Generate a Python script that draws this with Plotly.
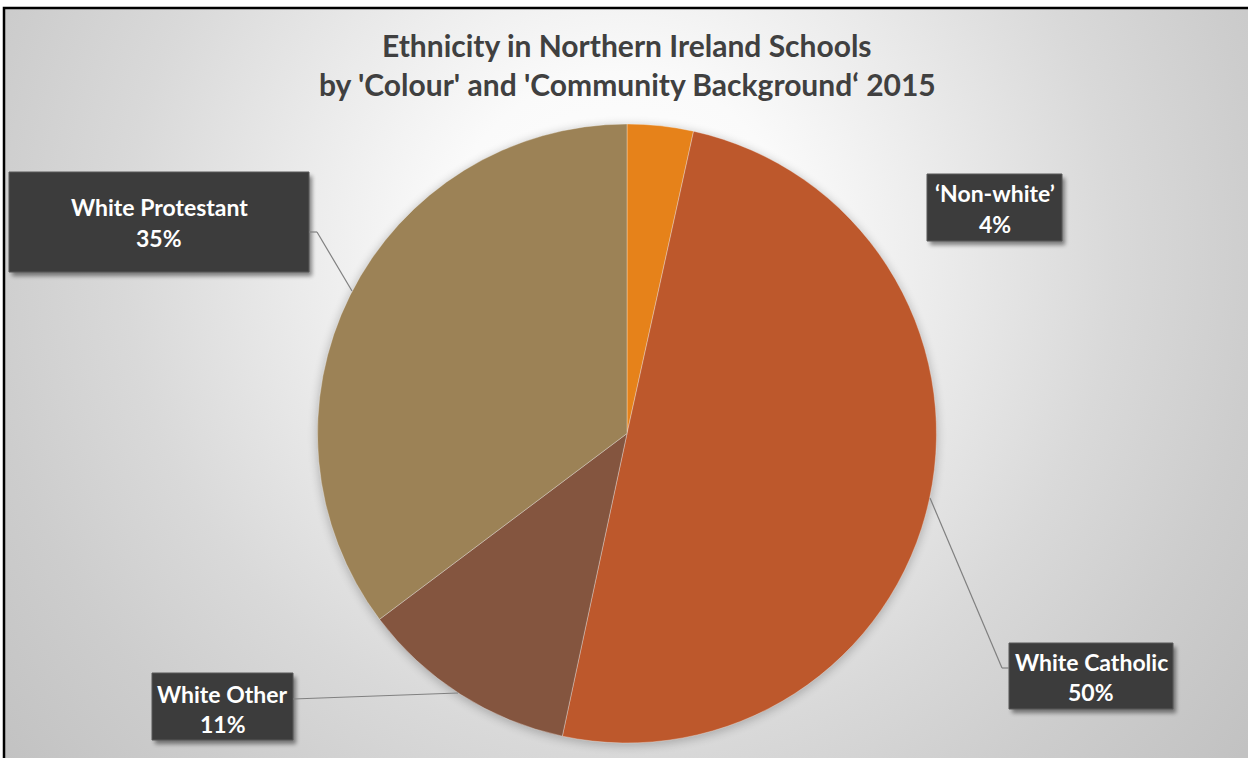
import base64
import plotly.graph_objects as go

W, H = 1248, 758

# ---- data ----
categories = ["'Non-white'", "White Catholic", "White Other", "White Protestant"]
shares = [3.45, 49.9, 11.4, 35.25]
pct_labels = ["4%", "50%", "11%", "35%"]
name_labels = ["\u2018Non-white\u2019", "White Catholic", "White Other", "White Protestant"]
colors = ["#E6821A", "#BD582C", "#84553F", "#9C8256"]

title_lines = ["Ethnicity in Northern Ireland Schools",
               "by 'Colour' and 'Community Background\u2018 2015"]

# ---- layout helpers (pixel -> paper) ----
def px(x):
    return x / W

def py(y):
    return 1 - y / H

cx, cy, r = 627, 433.5, 309.5

# label boxes: (x0, y0, x1, y1), line centres
boxes = [(927, 174, 1062, 241), (1009, 643, 1173, 709), (152, 673, 293, 740), (9, 172, 309, 272)]
line1_y = [193, 662, 693.5, 207]
line2_y = [224, 692, 724, 238]

leaders = [
    None,
    [(930, 498), (1002, 668), (1009, 668)],
    [(293, 699), (458, 693)],
    [(309, 232), (317, 232), (352, 291)],
]

# ---- background SVG (frame, gradient, shadows) ----
svg = [f'<svg xmlns="http://www.w3.org/2000/svg" width="{W}" height="{H}" viewBox="0 0 {W} {H}">',
       '<defs>',
       '<radialGradient id="g" gradientUnits="userSpaceOnUse" cx="620" cy="250" r="800">',
       '<stop offset="0" stop-color="#ffffff"/>',
       '<stop offset="0.22" stop-color="#fafafa"/>',
       '<stop offset="0.62" stop-color="#d9d9d9"/>',
       '<stop offset="0.8" stop-color="#cdcdcd"/>',
       '<stop offset="1" stop-color="#c2c2c2"/>',
       '</radialGradient>',
       '<filter id="blur" x="-20%" y="-20%" width="140%" height="140%"><feGaussianBlur stdDeviation="5"/></filter>',
       '<filter id="blur2" x="-20%" y="-20%" width="140%" height="140%"><feGaussianBlur stdDeviation="2"/></filter>',
       '</defs>',
       f'<rect width="{W}" height="{H}" fill="#ffffff"/>',
       f'<rect x="4" y="8" width="{W + 10}" height="{H + 10}" fill="url(#g)" stroke="#000000" stroke-width="2.5"/>',
       f'<circle cx="{cx}" cy="{cy + 2}" r="{r + 1}" fill="#000000" opacity="0.22" filter="url(#blur)"/>']
for (x0, y0, x1, y1) in boxes:
    svg.append(f'<rect x="{x0 + 3}" y="{y0 + 4}" width="{x1 - x0}" height="{y1 - y0}" fill="#000000" opacity="0.45" filter="url(#blur2)"/>')
svg.append('</svg>')
svg_uri = "data:image/svg+xml;base64," + base64.b64encode("".join(svg).encode()).decode()

fig = go.Figure()
fig.add_trace(go.Pie(
    labels=categories,
    values=shares,
    sort=False,
    direction="clockwise",
    rotation=0,
    marker=dict(colors=colors, line=dict(color="rgba(255,255,255,0.4)", width=0.8)),
    textinfo="none",
    hoverinfo="label+percent",
    showlegend=False,
    domain=dict(x=[px(cx - r), px(cx + r)], y=[py(cy + r), py(cy - r)]),
))

shapes = []
for (x0, y0, x1, y1) in boxes:
    shapes.append(dict(type="rect", xref="paper", yref="paper",
                       x0=px(x0), x1=px(x1), y0=py(y1), y1=py(y0),
                       fillcolor="#3c3c3c", line=dict(color="#585858", width=1), layer="above"))
for pts in leaders:
    if not pts:
        continue
    for (a, b) in zip(pts[:-1], pts[1:]):
        shapes.append(dict(type="line", xref="paper", yref="paper",
                           x0=px(a[0]), y0=py(a[1]), x1=px(b[0]), y1=py(b[1]),
                           line=dict(color="#808080", width=1.2), layer="above"))

annotations = []
FONT = "Lato"
for i, (x0, y0, x1, y1) in enumerate(boxes):
    xc = (x0 + x1) / 2
    annotations.append(dict(x=px(xc), y=py(line1_y[i]), xref="paper", yref="paper",
                            text=f"<b>{name_labels[i]}</b>", showarrow=False,
                            xanchor="center", yanchor="middle",
                            font=dict(family=FONT, size=23, color="#ffffff")))
    annotations.append(dict(x=px(xc), y=py(line2_y[i]), xref="paper", yref="paper",
                            text=f"<b>{pct_labels[i]}</b>", showarrow=False,
                            xanchor="center", yanchor="middle",
                            font=dict(family=FONT, size=23, color="#ffffff")))

for t, yc in zip(title_lines, [45, 84]):
    annotations.append(dict(x=px(627), y=py(yc), xref="paper", yref="paper",
                            text=f"<b>{t}</b>", showarrow=False,
                            xanchor="center", yanchor="middle",
                            font=dict(family=FONT, size=30, color="#404040")))

fig.update_layout(
    width=W, height=H,
    margin=dict(l=0, r=0, t=0, b=0),
    paper_bgcolor="#ffffff",
    plot_bgcolor="rgba(0,0,0,0)",
    images=[dict(source=svg_uri, xref="paper", yref="paper", x=0, y=1,
                 sizex=1, sizey=1, sizing="stretch", xanchor="left", yanchor="top",
                 layer="below")],
    shapes=shapes,
    annotations=annotations,
)

fig.write_html("out.html")
